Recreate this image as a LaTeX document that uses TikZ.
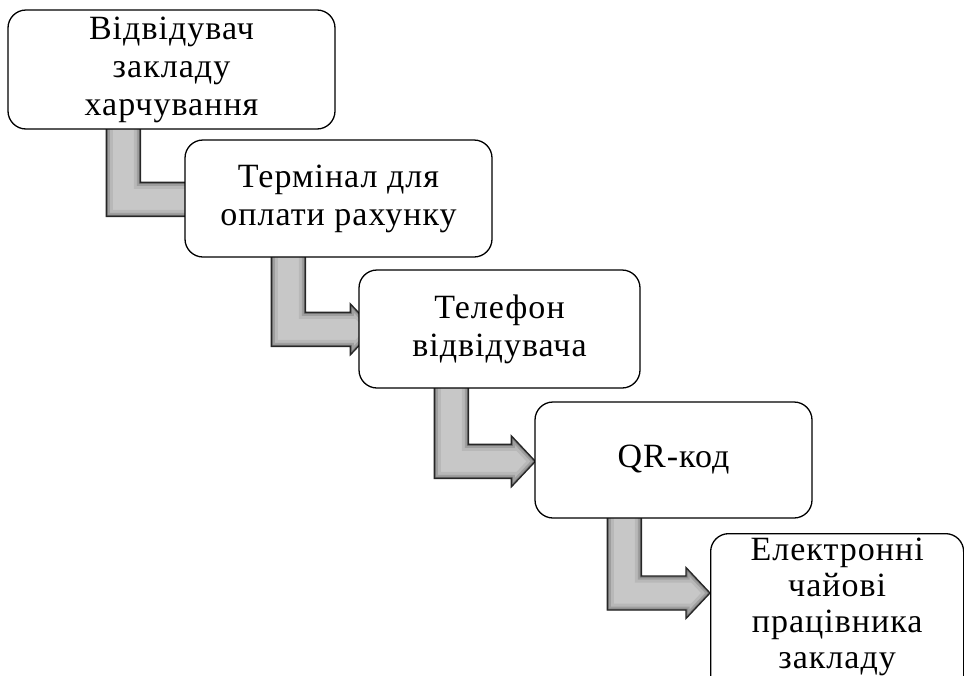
\documentclass[tikz,border=0pt]{standalone}
\usepackage{fontspec}
\setmainfont{Liberation Serif}[LetterSpace=3]
\usepackage{tikz}
\usetikzlibrary{calc,backgrounds}

% bent block arrow: from node, to node, bar offset, head offset
\newcommand{\bentpath}[4]{let \p1=(#1.south west), \p2=(#2.north west) in
  (\x1+#3pt,\y1+10pt) -- (\x1+#3pt+34pt,\y1+10pt)
  -- (\x1+#3pt+34pt,\y2-43pt) -- (\x2+#4pt,\y2-43pt)
  -- (\x2+#4pt,\y2-34.5pt) -- (\x2+#4pt+24pt,\y2-60pt)
  -- (\x2+#4pt,\y2-85.5pt) -- (\x2+#4pt,\y2-77pt)
  -- (\x1+#3pt,\y2-77pt) -- cycle}
\newcommand{\bentarrow}[4]{%
  \begin{scope}
    \clip \bentpath{#1}{#2}{#3}{#4};
    \fill[black!22] \bentpath{#1}{#2}{#3}{#4};
    \draw[line width=13pt, black!28] \bentpath{#1}{#2}{#3}{#4};
    \draw[line width=7pt, black!38] \bentpath{#1}{#2}{#3}{#4};
    \draw[line width=3pt, black!52] \bentpath{#1}{#2}{#3}{#4};
  \end{scope}
  \draw[line width=1.3pt, black!85] \bentpath{#1}{#2}{#3}{#4};}

\begin{document}
\begin{tikzpicture}[x=1pt, y=-1pt,
  stepbox/.style={draw, fill=white, rounded corners=18pt, line width=1.3pt,
    align=center, inner sep=0pt, font=\fontsize{34}{38}\selectfont}]
  \useasboundingbox (0,0) rectangle (964,675);
  \clip (0,0) rectangle (964,675);
  \node [stepbox, minimum width=327pt, minimum height=119pt] (b1) at (171.5,69.5) {Відвідувач\\закладу\\харчування};
  \node [stepbox, minimum width=307pt, minimum height=117pt] (b2) at (338.5,198.5) {Термінал для\\оплати рахунку};
  \node [stepbox, minimum width=281pt, minimum height=118pt] (b3) at (499.5,329) {Телефон\\відвідувача};
  \node [stepbox, minimum width=277pt, minimum height=116pt] (b4) at (673.5,460) {QR-код};
  \node [stepbox, anchor=north west, inner ysep=4pt, font=\fontsize{34}{36}\selectfont] (b5) at (710,533)
    {\parbox[t][160pt][t]{253pt}{\centering Електронні\\чайові\\працівника\\закладу}};
  \begin{pgfonlayer}{background}
    \bentarrow{b1}{b2}{99}{4}
    \bentarrow{b2}{b3}{87}{-8}
    \bentarrow{b3}{b4}{76}{-23}
    \bentarrow{b4}{b5}{73}{-24}
  \end{pgfonlayer}
\end{tikzpicture}
\end{document}
